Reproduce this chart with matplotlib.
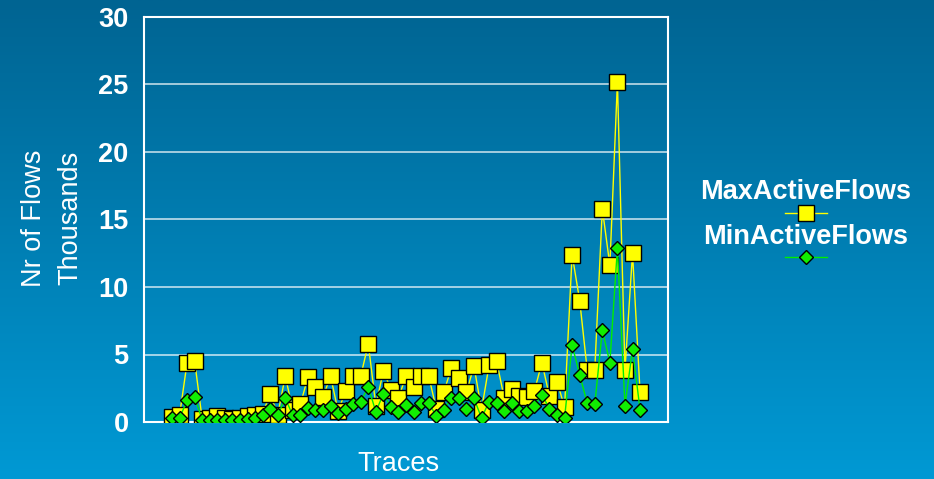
import numpy as np
import matplotlib.pyplot as plt
from matplotlib.lines import Line2D

plt.rcParams['font.family'] = ['Liberation Sans', 'DejaVu Sans']

# values in thousands of flows, one per trace
max_active = [0.4, 0.5, 4.4, 4.5, 0.2, 0.3, 0.45, 0.3, 0.2, 0.3,
              0.45, 0.5, 0.6, 2.1, 0.5, 3.4, 0.9, 1.3, 3.3, 2.6,
              1.85, 3.4, 0.8, 2.3, 3.4, 3.4, 5.8, 1.2, 3.8, 2.4,
              1.8, 3.4, 2.6, 3.4, 3.4, 1.0, 2.2, 4.0, 3.25, 2.2,
              4.15, 0.9, 4.2, 4.5, 1.8, 2.45, 1.9, 1.85, 2.3, 4.4,
              1.9, 3.0, 1.1, 12.4, 9.0, 3.85, 3.85, 15.8, 11.6, 25.2,
              3.85, 12.5, 2.2]
min_active = [0.3, 0.3, 1.6, 1.85, 0.15, 0.15, 0.15, 0.15, 0.15, 0.15,
              0.2, 0.3, 0.5, 1.0, 0.5, 1.75, 0.5, 0.5, 1.05, 0.9,
              0.9, 1.2, 0.65, 0.95, 1.3, 1.5, 2.6, 0.75, 2.1, 1.1,
              0.75, 1.25, 0.75, 1.4, 1.4, 0.45, 0.9, 1.75, 1.75, 1.0,
              1.75, 0.3, 1.5, 1.4, 0.8, 1.4, 0.8, 0.8, 1.2, 2.0,
              1.0, 0.5, 0.3, 5.7, 3.5, 1.4, 1.3, 6.8, 4.4, 12.9,
              1.2, 5.4, 0.9]
series_names = ["MaxActiveFlows", "MinActiveFlows"]
y_ticks = [0, 5, 10, 15, 20, 25, 30]

traces = np.arange(len(max_active))

fig = plt.figure(figsize=(9.34, 4.79), dpi=100)

# gradient background
bg = fig.add_axes([0, 0, 1, 1], zorder=-1)
top = np.array([0, 100, 146]) / 255
bot = np.array([0, 153, 212]) / 255
t = np.linspace(0, 1, 256)[:, None]
grad = top[None, :] * (1 - t) + bot[None, :] * t
bg.imshow(grad[:, None, :], aspect='auto', extent=[0, 1, 0, 1])
bg.axis('off')

ax = fig.add_axes([144 / 934, 1 - 422 / 479, 524 / 934, 405 / 479])
ax.set_facecolor('none')

ax.plot(traces, max_active, color='#ffff00', lw=1, marker='s', ms=11,
        mfc='#ffff00', mec='black', mew=1, zorder=3)
ax.plot(traces, min_active, color='#00ee00', lw=1, marker='D', ms=7.6,
        mfc='#11ee00', mec='black', mew=1, zorder=4)

ax.set_xlim(-3.71, 65.7)
ax.set_ylim(0, 30)
ax.set_yticks(y_ticks)
ax.set_xticks([])
ax.tick_params(axis='y', length=0, pad=11, labelsize=19.5, labelcolor='white')
for lab in ax.get_yticklabels():
    lab.set_fontweight('bold')
ax.grid(axis='y', color='white', alpha=0.75, lw=1.2, zorder=1)
ax.set_axisbelow(True)
for sp in ax.spines.values():
    sp.set_color('white')
    sp.set_linewidth(1.5)

fig.text(52 / 934, 1 - 218 / 479, "Nr of Flows\nThousands", rotation=90,
         ha='center', va='center', fontsize=19.5, color='white', linespacing=1.5)
fig.text(398 / 934, 1 - 464 / 479, "Traces", ha='center', va='center',
         fontsize=19.5, color='white')

# legend: label above a sample of the line/marker
legend_styles = [
    dict(color='#ffff00', marker='s', ms=11, mfc='#ffff00'),
    dict(color='#00ee00', marker='D', ms=7.6, mfc='#11ee00'),
]
for i, (name, st) in enumerate(zip(series_names, legend_styles)):
    ty = 1 - (192 + 45 * i) / 479
    my = 1 - (213 + 44 * i) / 479
    fig.text(806 / 934, ty, name, ha='center', va='center', fontsize=19.5,
             fontweight='bold', color='white')
    fig.add_artist(Line2D([785 / 934, 827 / 934], [my, my], lw=1,
                          color=st['color'], transform=fig.transFigure))
    fig.add_artist(Line2D([806 / 934], [my], marker=st['marker'], ms=st['ms'],
                          mfc=st['mfc'], mec='black', mew=1, ls='none',
                          transform=fig.transFigure))

fig.savefig('out.png', dpi=100)
